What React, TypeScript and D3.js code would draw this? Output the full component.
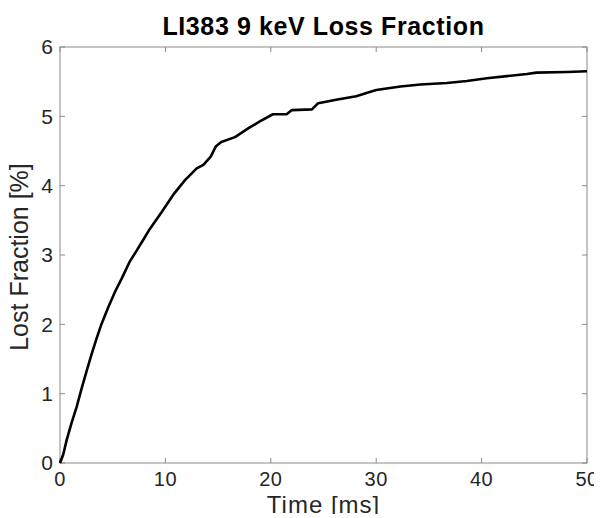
import React, { useEffect, useRef } from 'react';
import * as d3 from 'd3';

// Time [ms] samples
const timeMs = [
  0, 0.3, 0.63, 1.1, 1.58, 2.06, 2.53, 3.0, 3.48, 3.95, 4.59, 5.22, 5.85, 6.6, 7.3,
  7.9, 8.54, 9.65, 10.75, 11.86, 12.97, 13.6, 14.3, 14.8, 15.3, 16.6, 18.0, 19.0,
  20.2, 21.5, 22.0, 23.9, 24.5, 26.2, 28.1, 30.0, 32.3, 34.2, 36.7, 38.6, 40.5,
  42.4, 44.3, 45.2, 48.1, 50,
];
// Lost fraction [%] at each sample
const lostPct = [
  0, 0.12, 0.33, 0.58, 0.81, 1.08, 1.33, 1.57, 1.8, 2.01, 2.25, 2.47, 2.66, 2.9, 3.07,
  3.22, 3.38, 3.62, 3.87, 4.08, 4.25, 4.3, 4.42, 4.57, 4.63, 4.7, 4.84, 4.93,
  5.03, 5.03, 5.09, 5.1, 5.19, 5.24, 5.29, 5.38, 5.43, 5.46, 5.48, 5.51, 5.55,
  5.58, 5.61, 5.63, 5.64, 5.65,
];
const xTicks = [0, 10, 20, 30, 40, 50];
const yTicks = [0, 1, 2, 3, 4, 5, 6];

const W = 602;
const H = 518;

export default function App() {
  const svgRef = useRef<SVGSVGElement | null>(null);

  useEffect(() => {
    const margin = { top: 47, right: 15, bottom: 55, left: 60 };
    const innerW = W - margin.left - margin.right;
    const innerH = H - margin.top - margin.bottom;
    const font = '"Liberation Sans", Arial, Helvetica, sans-serif';
    const axisGray = '#8a8a8a';
    const textCol = '#262626';

    const svg = d3.select(svgRef.current);
    svg.selectAll('*').remove();
    svg.style('font-family', font);

    const x = d3.scaleLinear().domain([0, 50]).range([0, innerW]);
    const y = d3.scaleLinear().domain([0, 6]).range([innerH, 0]);

    const g = svg.append('g').attr('transform', `translate(${margin.left},${margin.top})`);

    // box
    g.append('rect')
      .attr('x', 0).attr('y', 0)
      .attr('width', innerW).attr('height', innerH)
      .attr('fill', 'none')
      .attr('stroke', axisGray)
      .attr('stroke-width', 1);

    // ticks, inward on all four sides
    const tl = 5;
    xTicks.forEach(t => {
      g.append('line').attr('x1', x(t)).attr('x2', x(t)).attr('y1', innerH).attr('y2', innerH - tl)
        .attr('stroke', axisGray);
      g.append('line').attr('x1', x(t)).attr('x2', x(t)).attr('y1', 0).attr('y2', tl)
        .attr('stroke', axisGray);
      g.append('text')
        .attr('x', x(t)).attr('y', innerH + 23)
        .attr('text-anchor', 'middle')
        .style('font-size', '20px').style('letter-spacing', '0.5px').style('fill', textCol)
        .text(t);
    });
    yTicks.forEach(t => {
      g.append('line').attr('x1', 0).attr('x2', tl).attr('y1', y(t)).attr('y2', y(t))
        .attr('stroke', axisGray);
      g.append('line').attr('x1', innerW).attr('x2', innerW - tl).attr('y1', y(t)).attr('y2', y(t))
        .attr('stroke', axisGray);
      g.append('text')
        .attr('x', -7).attr('y', y(t)).attr('dy', '0.35em')
        .attr('text-anchor', 'end')
        .style('font-size', '21px').style('fill', textCol)
        .text(t);
    });

    // loss curve
    const line = d3.line<number>()
      .x((_, i) => x(timeMs[i]))
      .y(d => y(d));
    g.append('path')
      .datum(lostPct)
      .attr('d', line)
      .attr('fill', 'none')
      .attr('stroke', '#000')
      .attr('stroke-width', 2.6)
      .attr('stroke-linejoin', 'round');

    // labels
    g.append('text')
      .attr('x', innerW / 2).attr('y', innerH + 50)
      .attr('text-anchor', 'middle')
      .style('font-size', '24px').style('letter-spacing', '1px').style('fill', textCol)
      .text('Time [ms]');
    g.append('text')
      .attr('transform', `translate(-32,${innerH / 2 + 2}) rotate(-90)`)
      .attr('text-anchor', 'middle')
      .style('font-size', '25px').style('fill', textCol)
      .text('Lost Fraction [%]');
    g.append('text')
      .attr('x', innerW / 2).attr('y', -12)
      .attr('text-anchor', 'middle')
      .style('font-size', '25px').style('font-weight', 'bold')
      .style('letter-spacing', '0.6px').style('fill', '#000')
      .text('LI383 9 keV Loss Fraction');
  }, []);

  return (
    <div style={{ margin: -8 }}>
      <svg ref={svgRef} width={W} height={H}></svg>
    </div>
  );
}
